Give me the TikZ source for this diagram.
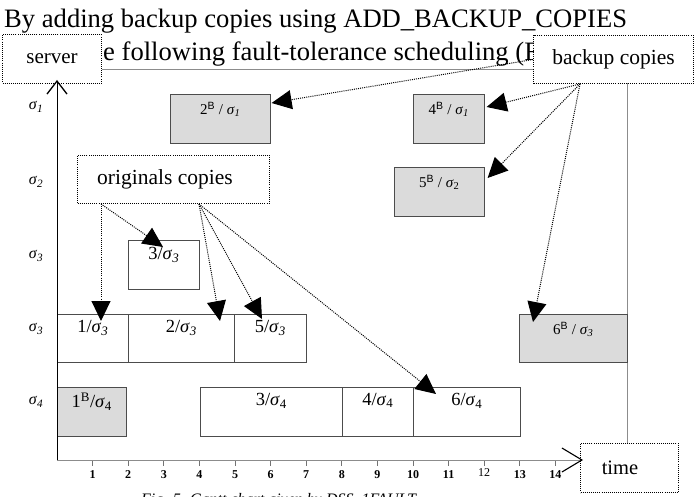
\documentclass[tikz,border=0pt]{standalone}
\usepackage{fontspec}
\setmainfont{Liberation Serif}
\newfontfamily\sansB{Liberation Sans}
\usetikzlibrary{arrows.meta,calc}
\newcommand{\sig}[1]{\textit{σ}\textsubscript{\textit{#1}}}
\newcommand{\bsup}{\textsuperscript{\sansB B}}
\begin{document}
\begin{tikzpicture}[x=1pt,y=-1pt,
  task/.style={draw=black!70,line width=0.6pt,fill=white,inner sep=0pt,anchor=north west},
  bk/.style={task,fill=black!14},
  blabel/.style={font=\fontsize{15}{16}\selectfont,anchor=north,inner sep=0pt},
  tlabel/.style={font=\fontsize{18.5}{20}\selectfont,anchor=north,inner sep=0pt},
  note/.style={draw=black,line width=1pt,dash pattern=on 1pt off 1.1pt,fill=white,inner sep=0pt,anchor=north west},
  conn/.style={draw=black,line width=1pt,dash pattern=on 1pt off 1.1pt,-{Triangle[length=20pt,width=19pt]}},
  rowlbl/.style={font=\fontsize{16}{18}\selectfont,inner sep=0pt},
  tick/.style={font=\bfseries\fontsize{12}{14}\selectfont,inner sep=0pt},
  frame/.style={draw=black!45,line width=0.9pt}]
\useasboundingbox (0,0) rectangle (696,497);

% title text
\node[anchor=base west,inner sep=0pt,font=\fontsize{26.6}{30}\selectfont] (title1) at (4,28) {By adding backup copies using ADD\_BACKUP\_COPIES};
\node[anchor=base west,inner sep=0pt,font=\fontsize{26.6}{30}\selectfont] (title2) at (103,61) {e following fault-tolerance scheduling (F};

% frame
\coordinate (origin) at (57,460);
\draw[frame] (101,69) -- (627,69) -- (627,460);

% task boxes
\node[bk,minimum width=100pt,minimum height=49pt] (b2) at (170,94) {};
\node[blabel] at ($(b2.north)+(0,8)$) {2\bsup\ / \sig{1}};
\node[bk,minimum width=71pt,minimum height=49pt] (b4) at (413,94) {};
\node[blabel] at ($(b4.north)+(0,8)$) {4\bsup\ / \sig{1}};
\node[bk,minimum width=90pt,minimum height=49pt] (b5) at (394,167) {};
\node[blabel] at ($(b5.north)+(0,8)$) {5\bsup\ / \textit{σ}\textsubscript{2}};
\node[task,minimum width=71pt,minimum height=49pt] (t3s3) at (128,240) {};
\node[tlabel] at ($(t3s3.north)+(0,7)$) {3/\sig{3}};

\node[task,minimum width=71pt,minimum height=48pt] (t1s3) at (57,314) {};
\node[tlabel] at ($(t1s3.north)+(0,6)$) {1/\sig{3}};
\node[task,minimum width=106pt,minimum height=48pt] (t2s3) at (128,314) {};
\node[tlabel] at ($(t2s3.north)+(0,6)$) {2/\sig{3}};
\node[task,minimum width=72pt,minimum height=48pt] (t5s3) at (234,314) {};
\node[tlabel] at ($(t5s3.north)+(0,6)$) {5/\sig{3}};
\node[bk,minimum width=108pt,minimum height=48pt] (b6) at (519,314) {};
\node[blabel] at ($(b6.north)+(0,8)$) {6\bsup\ / \sig{3}};

\node[bk,minimum width=69pt,minimum height=49pt] (b1) at (57,387) {};
\node[tlabel] at ($(b1.north)+(0,6)$) {1\textsuperscript{B}/\textit{σ}\textsubscript{4}};
\node[task,minimum width=142pt,minimum height=49pt] (t3s4) at (200,387) {};
\node[tlabel] at ($(t3s4.north)+(0,6)$) {3/\textit{σ}\textsubscript{4}};
\node[task,minimum width=71pt,minimum height=49pt] (t4s4) at (342,387) {};
\node[tlabel] at ($(t4s4.north)+(0,6)$) {4/\textit{σ}\textsubscript{4}};
\node[task,minimum width=107pt,minimum height=49pt] (t6s4) at (413,387) {};
\node[tlabel] at ($(t6s4.north)+(0,6)$) {6/\textit{σ}\textsubscript{4}};

% row labels
\node[rowlbl] (r1) at (36,107) {\sig{1}};
\node[rowlbl] (r2) at (36,182) {\sig{2}};
\node[rowlbl] (r3) at (36,256) {\sig{3}};
\node[rowlbl] (r4) at (36,329) {\sig{3}};
\node[rowlbl] (r5) at (36,402) {\textit{σ}\textsubscript{\textit{4}}};

% note boxes
\node[note,minimum width=99pt,minimum height=49pt,font=\fontsize{21}{24}\selectfont] (server) at (2,34) {server};
\node[note,minimum width=160pt,minimum height=48pt,font=\fontsize{21.5}{24}\selectfont] (backup) at (533,35) {backup copies};
\node[note,minimum width=192pt,minimum height=48pt,font=\fontsize{21.5}{24}\selectfont] (orig) at (77,155) {\hspace*{-17pt}originals copies};
\node[note,minimum width=98pt,minimum height=49pt,font=\fontsize{20.5}{24}\selectfont] (time) at (580,443) {\hspace*{-19pt}time};

% axes
\draw[draw=black!45,line width=0.9pt,-{Straight Barb[length=20pt,width=24pt,color=black,line width=1.1pt]},shorten >=-3pt] (origin) -- (origin -| time.west);
\draw[black,line width=1pt,-{Straight Barb[length=13pt,width=20pt,line width=1.3pt]},shorten >=-4pt] (origin) -- (origin |- server.south);

% ticks
\foreach \k in {1,...,14}{
  \draw[black!55,line width=0.7pt] ($(origin)+(35.6*\k,1)$) -- ($(origin)+(35.6*\k,6)$);
}
\foreach \k in {1,...,11,13,14}{
  \node[tick] (tk\k) at ($(origin)+(35.6*\k,15)$) {\k};
}
\node[inner sep=0pt,font=\fontsize{12}{14}\selectfont] (tk12) at ($(origin)+(35.6*12,13)$) {12};

% connectors from originals
\coordinate (o1) at ($(orig.south west)+(24,0)$);
\coordinate (o2) at ($(orig.south west)+(122,0)$);
\draw[conn] (o1) -- ($(t1s3.north west)+(44,7)$);
\draw[conn] (o1) -- ($(t3s3.north west)+(35,7)$);
\draw[conn] (o2) -- ($(t2s3.north west)+(92,7)$);
\draw[conn] (o2) -- ($(t5s3.north west)+(28,5)$);
\draw[conn] (o2) -- ($(t6s4.north west)+(23,7)$);

% connectors from backup copies
\coordinate (bc) at ($(backup.south west)+(47,0)$);
\draw[conn] (backup.west) -- ($(b2.north east)+(1,9)$);
\draw[conn] (bc) -- ($(b4.north east)+(2,13)$);
\draw[conn] (bc) -- ($(b5.north east)+(3,11)$);
\draw[conn] (bc) -- ($(b6.north west)+(14,8)$);

% caption (cut by page edge, as in the reference)
\node[anchor=base west,inner sep=0pt,font=\itshape\fontsize{16}{18}\selectfont] (cap) at (141,504) {Fig. 5. Gantt chart given by DSS\_1FAULT};
\end{tikzpicture}
\end{document}
